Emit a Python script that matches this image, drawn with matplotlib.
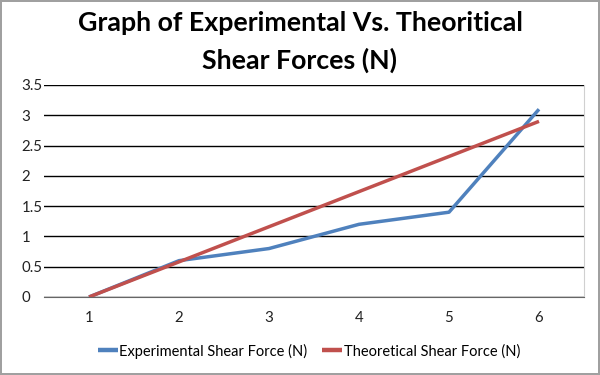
import matplotlib
matplotlib.use("Agg")
import matplotlib.pyplot as plt

categories = ["1", "2", "3", "4", "5", "6"]
experimental = [0.0, 0.6, 0.8, 1.2, 1.4, 3.1]
theoretical = [0.0, 0.58, 1.16, 1.74, 2.32, 2.9]
yticks = [0, 0.5, 1, 1.5, 2, 2.5, 3, 3.5]
ytick_labels = ["0", "0.5", "1", "1.5", "2", "2.5", "3", "3.5"]

plt.rcParams['font.family'] = ['Lato', 'DejaVu Sans']

fig = plt.figure(figsize=(6, 3.75), dpi=100)
fig.patch.set_edgecolor('#a0a0a0')
fig.patch.set_linewidth(1.5)
ax = fig.add_axes([44/600, 1-297/375, 540/600, 212/375])

x = list(range(1, len(categories) + 1))
ax.plot(x, experimental, color='#4f81bd', lw=2.5, label='Experimental Shear Force (N)', solid_capstyle='butt')
ax.plot(x, theoretical, color='#c0504d', lw=2.5, label='Theoretical Shear Force (N)', solid_capstyle='butt')

ax.set_xlim(0.5, 6.5)
ax.set_ylim(0, 3.5)
ax.set_xticks(x)
ax.set_xticklabels(categories)
ax.set_yticks(yticks)
ax.set_yticklabels(ytick_labels)
ax.yaxis.grid(True, color='black', lw=1)
ax.set_axisbelow(True)
ax.tick_params(axis='both', length=0, labelsize=10.8, colors='#222222')
ax.tick_params(axis='x', pad=10)
ax.tick_params(axis='y', pad=16)
for lab in ax.get_yticklabels():
    lab.set_horizontalalignment('left')
for s in ['left', 'top']:
    ax.spines[s].set_visible(False)
ax.spines['right'].set_color('#d0d0d0')
ax.spines['bottom'].set_color('#666666')

fig.text(0.5, 1-23/375, 'Graph of Experimental Vs. Theoritical', ha='center', va='center',
         fontsize=19.3, fontweight='bold')
fig.text(0.5, 1-60/375, 'Shear Forces (N)', ha='center', va='center',
         fontsize=19.3, fontweight='bold')

fig.legend(loc='center', bbox_to_anchor=(0.515, 1-351/375), ncol=2, frameon=False,
           fontsize=10.5, handlelength=1.35, handletextpad=0.12, columnspacing=1.0)
for line in fig.legends[0].get_lines():
    line.set_linewidth(3.2)

fig.savefig('out.png', dpi=100)
